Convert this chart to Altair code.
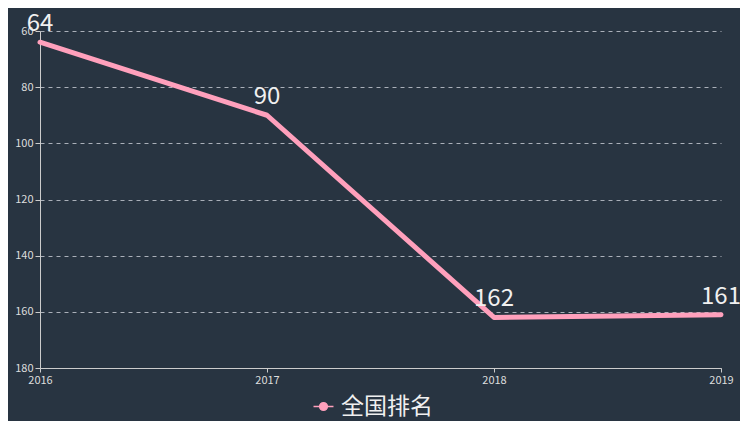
import altair as alt
import pandas as pd

years = ["2016", "2017", "2018", "2019"]
ranks = [64, 90, 162, 161]
series = ["全国排名"] * 4

df = pd.DataFrame({"year": years, "rank": ranks, "series": series})

BG = "#283441"
PINK = "#ffa0bc"
FONT = "Noto Sans CJK SC"

legend_path = "M-1.6,0H-0.62 M0.62,0H1.6 M0.62,0A0.62,0.62 0 1 1 -0.62,0A0.62,0.62 0 1 1 0.62,0Z"

x = alt.X("year:O", scale=alt.Scale(type="point", padding=0),
          axis=alt.Axis(title=None, labelAngle=0, labelColor="#dddddd", labelFontSize=11,
                        labelFont=FONT, domainColor="#cccccc", tickColor="#cccccc",
                        tickSize=4, grid=False, labelPadding=2))
y = alt.Y("rank:Q", scale=alt.Scale(domain=[60, 180], reverse=True, nice=False, zero=False),
          axis=alt.Axis(title=None, values=[60, 80, 100, 120, 140, 160, 180],
                        labelColor="#dddddd", labelFontSize=11, labelFont=FONT,
                        domainColor="#cccccc", tickColor="#cccccc", tickSize=5,
                        grid=True, gridDash=[4, 4], gridColor="#b8bec6", gridOpacity=0.9,
                        gridWidth=1))

line = alt.Chart(df).mark_line(strokeWidth=5, color=PINK, strokeCap="round", strokeJoin="round").encode(
    x=x, y=y,
    color=alt.Color("series:N", scale=alt.Scale(range=[PINK]),
                    legend=alt.Legend(title=None, orient="none", legendX=272, legendY=364,
                                      symbolType=legend_path, symbolSize=156,
                                      symbolStrokeWidth=1.5, symbolFillColor=PINK,
                                      labelFontSize=23, labelColor="#f0f0f0", labelFont=FONT,
                                      labelOffset=6)),
)

labels = alt.Chart(df).mark_text(fontSize=24, color="#f0f0f0", font=FONT, baseline="bottom",
                                 align="center", dy=-6).encode(
    x=x, y=y, text=alt.Text("rank:Q")
)

chart = (line + labels).properties(
    width=681, height=337, background=BG,
    padding={"left": 32, "top": 23, "right": 19, "bottom": 53},
    autosize=alt.AutoSizeParams(type="none"),
).configure_view(stroke=None)

chart.save("out.html", embed_options={"renderer": "svg", "actions": False})
